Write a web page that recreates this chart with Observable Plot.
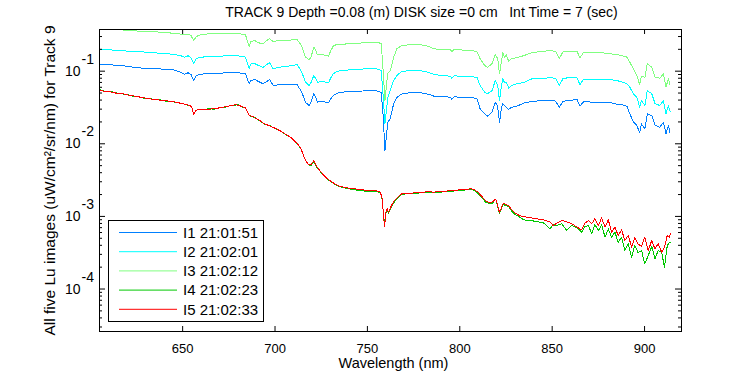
<!DOCTYPE html>
<html><head><meta charset="utf-8">
<script src="https://cdn.jsdelivr.net/npm/d3@7"></script>
<script src="https://cdn.jsdelivr.net/npm/@observablehq/plot@0.6"></script>
<style>
body{margin:0;background:#fff;}
#chart{width:750px;height:375px;}
svg text{white-space:pre;}
</style></head><body><div id="chart"></div>
<script>
// ---------- data ----------
const seriesNames = ["I1 21:01:51","I2 21:02:01","I3 21:02:12","I4 21:02:23","I5 21:02:33"];
const seriesColors = ["#0080ff","#00ffff","#80ff80","#00c800","#ff0000"];

const wavelength = [605,610,615,620,625,630,635,640,645,
649,651,653,654.5,656,657.5,
660,665,670,675,680,684,
686,687,689,691,693.5,695.5,697,699,
702,707,712,
714.5,716.5,718.5,719.5,721,722,723,
726,729,730,731.5,733,735,
740,745,750,755,757.5,
758.5,759.5,760.3,761,762.4,764.2,766,768.7,
773,778,783,786,790,
794.8,795.7,797,802,807,
809.3,811,813.5,815,817.5,
819.2,820.5,821.5,822.5,823.3,824.2,825.2,826.5,828,
831,835,839,845,850,
852,853.8,856,860,863.5,865,867,
872,877,882,885,888,890.5,
892,894,895.8,897.4,898.3,900.2,
901.5,903.9,905.7,908.3,910.2,911.6,912.9,913.8];

const I1 = [0.125,0.123,0.120,0.117,0.112,0.109,0.109,0.106,0.104,
0.0969,0.0910,0.0951,0.0901,0.0745,0.0873,
0.0910,0.0930,0.0939,0.0951,0.0951,0.0921,
0.0671,0.0745,0.0769,0.0721,0.0671,0.0721,0.0769,0.0635,
0.0650,0.0650,0.0650,
0.0513,0.0371,0.0337,0.0375,0.0488,0.0434,0.0375,
0.0383,0.0367,0.0408,0.0463,0.0488,0.0513,
0.0520,0.0530,0.0537,0.0537,0.0509,
0.0245,0.00809,0.0130,0.0197,0.0223,0.0356,0.0434,0.0488,
0.0504,0.0509,0.0482,0.0453,0.0448,
0.0438,0.0412,0.0444,0.0434,0.0430,
0.0417,0.0303,0.0259,0.0240,0.0273,
0.0375,0.0326,0.0195,0.0306,0.0356,0.0337,0.0319,0.0297,0.0319,
0.0330,0.0367,0.0383,0.0395,0.0399,
0.0383,0.0319,0.0386,0.0399,0.0404,0.0330,0.0379,
0.0375,0.0375,0.0367,0.0351,0.0345,0.0326,
0.0261,0.0199,0.0179,0.0142,0.0188,0.0160,
0.0259,0.0245,0.0179,0.0169,0.0199,0.0138,0.0179,0.0142];

const I2 = [0.199,0.197,0.193,0.189,0.187,0.183,0.179,0.175,0.171,
0.163,0.156,0.163,0.154,0.127,0.150,
0.156,0.159,0.161,0.163,0.163,0.156,
0.110,0.127,0.127,0.120,0.113,0.123,0.131,0.108,
0.113,0.117,0.123,
0.0969,0.0705,0.0635,0.0699,0.0873,0.0793,0.0705,
0.0721,0.0692,0.0793,0.0921,0.0969,0.102,
0.104,0.106,0.108,0.108,0.102,
0.0463,0.0190,0.0288,0.0434,0.0542,0.0745,0.0873,0.100,
0.101,0.102,0.0969,0.0901,0.0873,
0.0854,0.0801,0.0865,0.0845,0.0837,
0.0819,0.0635,0.0513,0.0488,0.0542,
0.0745,0.0635,0.0395,0.0616,0.0785,0.0699,0.0705,0.0583,0.0635,
0.0671,0.0705,0.0785,0.0801,0.0811,
0.0793,0.0635,0.0801,0.0811,0.0811,0.0650,0.0776,
0.0776,0.0769,0.0762,0.0745,0.0705,0.0671,
0.0602,0.0488,0.0438,0.0319,0.0395,0.0337,
0.0542,0.0488,0.0356,0.0337,0.0395,0.0259,0.0337,0.0279];

const I3 = [0.400,0.393,0.375,0.364,0.358,0.352,0.349,0.341,0.333,
0.324,0.317,0.324,0.310,0.265,0.301,
0.320,0.328,0.331,0.331,0.331,0.317,
0.221,0.256,0.265,0.246,0.239,0.265,0.279,0.256,
0.265,0.267,0.273,
0.221,0.156,0.144,0.157,0.214,0.193,0.168,
0.168,0.161,0.187,0.221,0.231,0.233,
0.239,0.243,0.248,0.250,0.241,
0.102,0.0395,0.0635,0.0930,0.102,0.156,0.205,0.226,
0.231,0.233,0.221,0.203,0.199,
0.197,0.187,0.199,0.195,0.193,
0.183,0.149,0.120,0.113,0.127,
0.168,0.150,0.0921,0.133,0.183,0.156,0.168,0.136,0.149,
0.153,0.165,0.179,0.189,0.191,
0.187,0.149,0.187,0.187,0.187,0.153,0.181,
0.181,0.179,0.173,0.170,0.163,0.156,
0.133,0.108,0.0873,0.0650,0.0854,0.0826,
0.127,0.113,0.0826,0.0801,0.0921,0.0602,0.0785,0.0650];

const wavelengthLow = [605,608,611,614,617,620,623,626,629,632,635,638,641,644,647,
650,
652,654,655,656,657,658.5,
661,664,667,670,673,676,678,680,682,684,
686,688,690,692,694,697,700,703,706,709,712,714,716,718,719.5,
721,722.5,725,727,729,731,733,735,737,740,
743,746,749,752,755,757,758,758.8,759.3,760,
760.7,761.5,763,764.5,766,768.5,771,774,777,780,
783,786,789,792,795,798,801,804,806,808,
810,812,814,815.5,817.5,819.5,821.5,823.5,825,826.5,
828,830,832.5,834.5,838.1,841.7,845.3,848.8,850.5,852.4,
855.2,857.9,860.6,864.1,866,867.8,869.6,871.4,873.1,875,
876.8,878.6,880.4,882.1,884,885.7,887.6,889.3,891.2,893,
894.7,896.5,898.4,900.1,902,903.9,905.6,907.4,909.3,910.8,
912.3,913.4,914];

const I4 = [0.0560,0.0525,0.0525,0.0504,0.0488,0.0478,0.0453,0.0448,0.0425,0.0421,0.0404,0.0404,0.0386,0.0386,0.0367,
0.0359,
0.0344,0.0337,0.0313,0.0253,0.0285,0.0297,
0.0294,0.0303,0.0300,0.0316,0.0319,0.0337,0.0341,0.0344,0.0323,0.0309,
0.0245,0.0235,0.0223,0.0205,0.0188,0.0179,0.0162,0.0151,0.0133,0.0121,0.0100,0.00854,0.00633,0.00514,0.00505,
0.00576,0.00482,0.00399,0.00347,0.00315,0.00291,0.00270,0.00258,0.00248,0.00240,
0.00233,0.00227,0.00222,0.00222,0.00220,0.00212,0.00172,0.00101,0.000774,0.00110,
0.00124,0.00111,0.00137,0.00157,0.00176,0.00200,0.00205,0.00207,0.00209,0.00212,
0.00214,0.00212,0.00216,0.00218,0.00222,0.00225,0.00227,0.00233,0.00235,0.00227,
0.00207,0.00180,0.00157,0.00152,0.00152,0.00171,0.00110,0.00146,0.00141,0.00136,
0.00119,0.00106,0.000975,0.000898,0.000878,0.000851,0.000816,0.000675,0.000767,0.000749,
0.000791,0.000639,0.000749,0.000675,0.000606,0.000726,0.000749,0.000576,0.000774,0.000639,
0.000767,0.000517,0.000675,0.000517,0.000606,0.000441,0.000517,0.000339,0.000419,0.000274,
0.000397,0.000318,0.000339,0.000222,0.000289,0.000385,0.000261,0.000339,0.000318,0.000198,
0.000397,0.000437,0.000441];

const I5 = [0.0542,0.0530,0.0520,0.0498,0.0493,0.0473,0.0459,0.0444,0.0430,0.0417,0.0408,0.0399,0.0391,0.0383,0.0371,
0.0356,
0.0348,0.0337,0.0316,0.0250,0.0288,0.0294,
0.0297,0.0300,0.0303,0.0313,0.0323,0.0334,0.0344,0.0341,0.0326,0.0313,
0.0245,0.0238,0.0221,0.0207,0.0190,0.0177,0.0164,0.0150,0.0134,0.0120,0.0101,0.00862,0.00627,0.00519,0.00519,
0.00583,0.00487,0.00403,0.00355,0.00319,0.00296,0.00275,0.00261,0.00253,0.00245,
0.00240,0.00235,0.00230,0.00227,0.00225,0.00216,0.00176,0.000975,0.000726,0.00113,
0.00127,0.00114,0.00141,0.00163,0.00180,0.00205,0.00209,0.00209,0.00214,0.00216,
0.00218,0.00216,0.00220,0.00222,0.00227,0.00230,0.00233,0.00237,0.00240,0.00233,
0.00214,0.00188,0.00163,0.00157,0.00157,0.00174,0.00114,0.00152,0.00146,0.00141,
0.00124,0.00111,0.00102,0.000997,0.000957,0.000927,0.000898,0.000843,0.000749,0.000806,
0.000878,0.000843,0.000791,0.000697,0.000654,0.000806,0.000878,0.000791,0.000927,0.000749,
0.000957,0.000710,0.000898,0.000606,0.000710,0.000546,0.000654,0.000466,0.000546,0.000377,
0.000507,0.000419,0.000385,0.000517,0.000339,0.000466,0.000358,0.000419,0.000321,0.000377,
0.000546,0.000517,0.000587];

const xTicks = [650,700,750,800,850,900];
const yMajor = [1e-4,1e-3,1e-2,1e-1];
const yExponents = ["-4","-3","-2","-1"];
const yMinor = [3e-5,4e-5,5e-5,6e-5,7e-5,8e-5,9e-5,
  2e-4,3e-4,4e-4,5e-4,6e-4,7e-4,8e-4,9e-4,
  2e-3,3e-3,4e-3,5e-3,6e-3,7e-3,8e-3,9e-3,
  2e-2,3e-2,4e-2,5e-2,6e-2,7e-2,8e-2,9e-2,
  2e-1,3e-1];
const titleText = "TRACK 9 Depth =0.08 (m) DISK size =0 cm   Int Time = 7 (sec)";
const xLabel = "Wavelength (nm)";
const yLabel = "All five Lu images (uW/cm\u00B2/sr/nm) for Track 9";

// ---------- table ----------
const rows = [];
[I1, I2, I3].forEach((arr, i) => arr.forEach((v, j) => rows.push({wl: wavelength[j], v, series: seriesNames[i]})));
[I4, I5].forEach((arr, i) => arr.forEach((v, j) => rows.push({wl: wavelengthLow[j], v, series: seriesNames[i + 3]})));

// ---------- layout ----------
const W = 750, H = 375, mL = 99, mR = 69, mT = 29, mB = 44;
const pw = W - mL - mR, ph = H - mT - mB;
const FONT = "'Liberation Sans', Arial, Helvetica, sans-serif";

const plot = Plot.plot({
  width: W, height: H,
  marginLeft: mL, marginRight: mR, marginTop: mT, marginBottom: mB,
  style: {fontFamily: FONT, fontSize: "13px", background: "white", color: "black", overflow: "visible"},
  x: {domain: [605, 920], axis: null},
  y: {type: "log", domain: [2.6e-5, 0.375], axis: null},
  color: {domain: seriesNames, range: seriesColors},
  marks: [
    Plot.lineY(rows, {x: "wl", y: "v", z: "series", stroke: "series", strokeWidth: 1, clip: true, shapeRendering: "crispEdges"}),
    // inward ticks (bottom, top)
    Plot.tickX(xTicks, {x: d => d, insetTop: ph - 5, stroke: "black"}),
    Plot.tickX(xTicks, {x: d => d, insetBottom: ph - 5, stroke: "black"}),
    // y major / minor ticks (left, right)
    Plot.tickY(yMajor, {y: d => d, insetRight: pw - 6, stroke: "black"}),
    Plot.tickY(yMajor, {y: d => d, insetLeft: pw - 6, stroke: "black"}),
    Plot.tickY(yMinor, {y: d => d, insetRight: pw - 3, stroke: "black"}),
    Plot.tickY(yMinor, {y: d => d, insetLeft: pw - 3, stroke: "black"}),
    // tick labels
    Plot.text(xTicks, {x: d => d, frameAnchor: "bottom", text: d => String(d), dy: 17, lineAnchor: "middle", textAnchor: "middle", fontSize: 13}),
    Plot.text(yMajor, {y: d => d, frameAnchor: "left", text: () => "10", dx: -19, textAnchor: "end", lineAnchor: "middle", fontSize: 14}),
    Plot.text(yMajor, {y: d => d, frameAnchor: "left", text: (d, i) => yExponents[i], dx: -18, dy: -12, textAnchor: "start", lineAnchor: "middle", fontSize: 14}),
    // titles
    Plot.text([titleText], {frameAnchor: "top", text: d => d, dy: -17, dx: 31, lineAnchor: "middle", textAnchor: "middle", fontSize: 14}),
    Plot.text([xLabel], {frameAnchor: "bottom", text: d => d, dy: 32, dx: 3, lineAnchor: "middle", textAnchor: "middle", fontSize: 14.5}),
    Plot.text([yLabel], {frameAnchor: "left", text: d => d, dx: -49, dy: 0, rotate: -90, lineAnchor: "middle", textAnchor: "middle", fontSize: 15.5}),
    Plot.frame({stroke: "black"})
  ]
});

// legend box
const svg = d3.select(plot);
const lg = svg.append("g").attr("font-family", FONT).attr("font-size", 15).attr("text-anchor", "start");
lg.append("rect").attr("x", 108.5).attr("y", 220.5).attr("width", 155).attr("height", 101)
  .attr("fill", "white").attr("stroke", "black");
seriesNames.forEach((name, i) => {
  const cy = 232.5 + i * 19.2;
  lg.append("line").attr("x1", 119).attr("x2", 177).attr("y1", cy).attr("y2", cy)
    .attr("stroke", seriesColors[i]).attr("stroke-width", 1);
  lg.append("text").attr("x", 183).attr("y", cy).attr("dy", "0.35em").attr("fill", "black").text(name);
});

document.getElementById("chart").appendChild(plot);
</script>
</body></html>
